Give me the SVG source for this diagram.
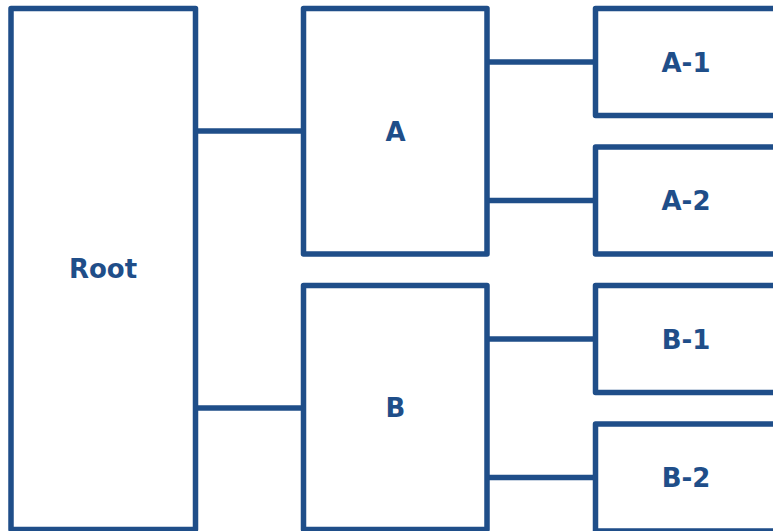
<svg xmlns="http://www.w3.org/2000/svg" width="773" height="531" viewBox="0 0 773 531">
<style>
.box{fill:#ffffff;stroke:#1F4E89;stroke-width:5.5;stroke-linejoin:round}
.lbl{font-family:"DejaVu Sans",sans-serif;font-weight:bold;font-size:26px;fill:#1F4E89;text-anchor:middle}
.conn line{stroke:#1F4E89;stroke-width:5.5}
</style>
<rect width="773" height="531" fill="#ffffff"/>
<g id="connectors" class="conn">
<line x1="195.5" y1="131" x2="303.5" y2="131"/>
<line x1="195.5" y1="408" x2="303.5" y2="408"/>
<line x1="487" y1="62" x2="595.5" y2="62"/>
<line x1="487" y1="200.5" x2="595.5" y2="200.5"/>
<line x1="487" y1="339" x2="595.5" y2="339"/>
<line x1="487" y1="477.5" x2="595.5" y2="477.5"/>
</g>
<g id="root"><rect class="box" x="11" y="8.5" width="184.5" height="521"/><text class="lbl" x="103" y="278.3">Root</text></g>
<g id="A"><rect class="box" x="303.5" y="8.5" width="183.5" height="245.5"/><text class="lbl" x="395.5" y="140.5">A</text></g>
<g id="B"><rect class="box" x="303.5" y="285.5" width="183.5" height="244"/><text class="lbl" x="395.5" y="417">B</text></g>
<g id="A-1"><rect class="box" x="595.5" y="8.5" width="183.5" height="107"/><text class="lbl" x="686" y="71.5">A-1</text></g>
<g id="A-2"><rect class="box" x="595.5" y="147" width="183.5" height="107"/><text class="lbl" x="686" y="210">A-2</text></g>
<g id="B-1"><rect class="box" x="595.5" y="285.5" width="183.5" height="107"/><text class="lbl" x="686" y="348.5">B-1</text></g>
<g id="B-2"><rect class="box" x="595.5" y="424" width="183.5" height="107"/><text class="lbl" x="686" y="487">B-2</text></g>
</svg>
